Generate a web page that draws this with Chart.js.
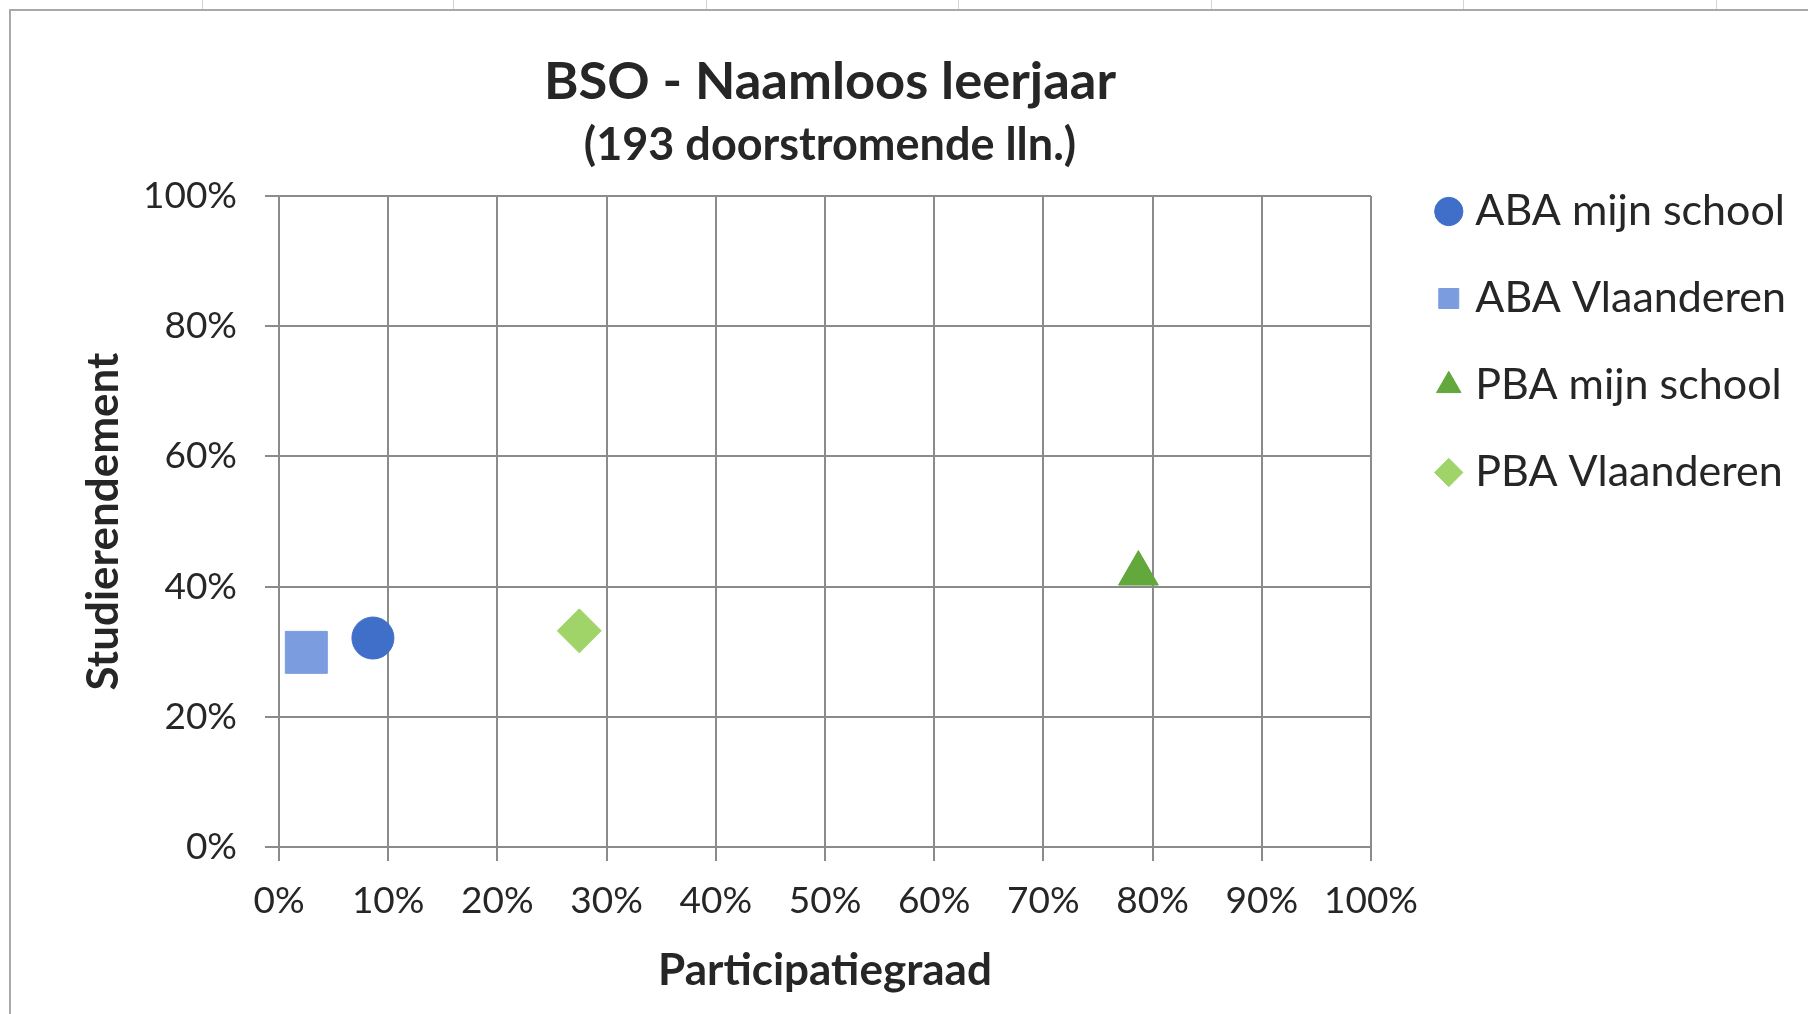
<!DOCTYPE html>
<html lang="nl">
<head>
<meta charset="utf-8">
<title>BSO - Naamloos leerjaar</title>
<script src="https://cdn.jsdelivr.net/npm/chart.js@4.4.1/dist/chart.umd.min.js"></script>
<style>
  html, body { margin: 0; padding: 0; background: #fff; overflow: hidden; width: 1808px; height: 1014px; }
  #kader { position: absolute; left: 9px; top: 9px; width: 1900px; height: 1100px; border: 2px solid #a9a9a9; box-sizing: border-box; }
  .cel { position: absolute; top: 0; width: 1px; height: 9px; background: #d4d4d4; }
  #grafiek { position: absolute; left: -136px; top: 0; }
</style>
</head>
<body>
<div class="cel" style="left:202px"></div>
<div class="cel" style="left:453px"></div>
<div class="cel" style="left:706px"></div>
<div class="cel" style="left:958px"></div>
<div class="cel" style="left:1211px"></div>
<div class="cel" style="left:1463px"></div>
<div class="cel" style="left:1716px"></div>
<div id="kader"></div>
<canvas id="grafiek" width="1932" height="1014"></canvas>
<script>
// reeksen: [participatiegraad %, studierendement %]
const reeksNamen = ["ABA mijn school", "ABA Vlaanderen", "PBA mijn school", "PBA Vlaanderen"];
const participatie = [8.6, 2.5, 78.7, 27.5];
const rendement = [32.1, 29.9, 42.0, 33.2];
const xTicks = [0, 10, 20, 30, 40, 50, 60, 70, 80, 90, 100];
const yTicks = [0, 20, 40, 60, 80, 100];

const kleuren = ["#3f6fc8", "#7b9ddf", "#62a83c", "#a0d468"];
const vormen = ["circle", "rect", "triangle", "rectRot"];
const groottes = [21, 29.7, 23, 22];

const tekst = "#262626";
const raster = "#8b8b8b";
const lettertype = "Lato, 'Open Sans', sans-serif";

const datasets = reeksNamen.map((naam, i) => ({
  label: naam,
  data: [{ x: participatie[i], y: rendement[i] }],
  pointStyle: vormen[i],
  pointRadius: groottes[i],
  pointHoverRadius: groottes[i],
  backgroundColor: kleuren[i],
  borderColor: kleuren[i],
  borderWidth: 1
}));

const RECHTERMARGE = 425; // ruimte rechts van het plotgebied (legende + marge)

new Chart(document.getElementById("grafiek"), {
  type: "scatter",
  data: { datasets: datasets },
  options: {
    responsive: false,
    animation: false,
    devicePixelRatio: 1,
    layout: { padding: 0 },
    plugins: {
      title: {
        display: true,
        text: "BSO - Naamloos leerjaar",
        color: tekst,
        font: { family: lettertype, size: 52.5, weight: "bold" },
        padding: { top: 50.5, bottom: 0 }
      },
      subtitle: {
        display: true,
        text: "(193 doorstromende lln.)",
        color: tekst,
        font: { family: lettertype, size: 45, weight: "bold" },
        padding: { top: 4.5, bottom: 24 }
      },
      legend: {
        position: "right",
        align: "start",
        maxWidth: 600,
        title: { display: true, text: "", font: { size: 10 }, padding: { top: 134, bottom: 0 } },
        labels: {
          usePointStyle: true,
          boxWidth: 10,
          boxHeight: 20,
          padding: 44,
          color: tekst,
          font: { family: lettertype, size: 43 }
        }
      },
      tooltip: { enabled: false }
    },
    scales: {
      x: {
        type: "linear",
        position: "bottom",
        min: 0,
        max: 100,
        afterBuildTicks: s => { s.ticks = xTicks.map(v => ({ value: v })); },
        afterFit: s => { s.height = 167; },
        grid: { color: raster, lineWidth: 2, tickLength: 14 },
        border: { color: raster, width: 2 },
        ticks: {
          padding: 18,
          color: tekst,
          font: { family: lettertype, size: 37 },
          callback: v => v + "%"
        },
        title: {
          display: true,
          text: "Participatiegraad",
          color: tekst,
          font: { family: lettertype, size: 44, weight: "bold" },
          padding: { top: 0, bottom: 16.6 }
        }
      },
      y: {
        type: "linear",
        position: "left",
        min: 0,
        max: 100,
        afterBuildTicks: s => { s.ticks = yTicks.map(v => ({ value: v })); },
        afterFit: s => { s.width = 415; },
        grid: { color: raster, lineWidth: 2, tickLength: 14 },
        border: { color: raster, width: 2 },
        ticks: {
          padding: 28,
          color: tekst,
          font: { family: lettertype, size: 37 },
          callback: v => v + "%"
        },
        title: {
          display: true,
          text: "Studierendement",
          color: tekst,
          font: { family: lettertype, size: 44, weight: "bold" },
          padding: { top: 213.6, bottom: 0 }
        }
      },
      // lege as als ruimte tussen plotgebied en legende
      rechts: {
        type: "linear",
        position: "right",
        display: true,
        grid: { display: false },
        border: { display: false },
        ticks: { display: false },
        afterFit: s => { s.width = Math.max(0, RECHTERMARGE - s.chart.legend.width); }
      }
    }
  }
});
</script>
</body>
</html>
